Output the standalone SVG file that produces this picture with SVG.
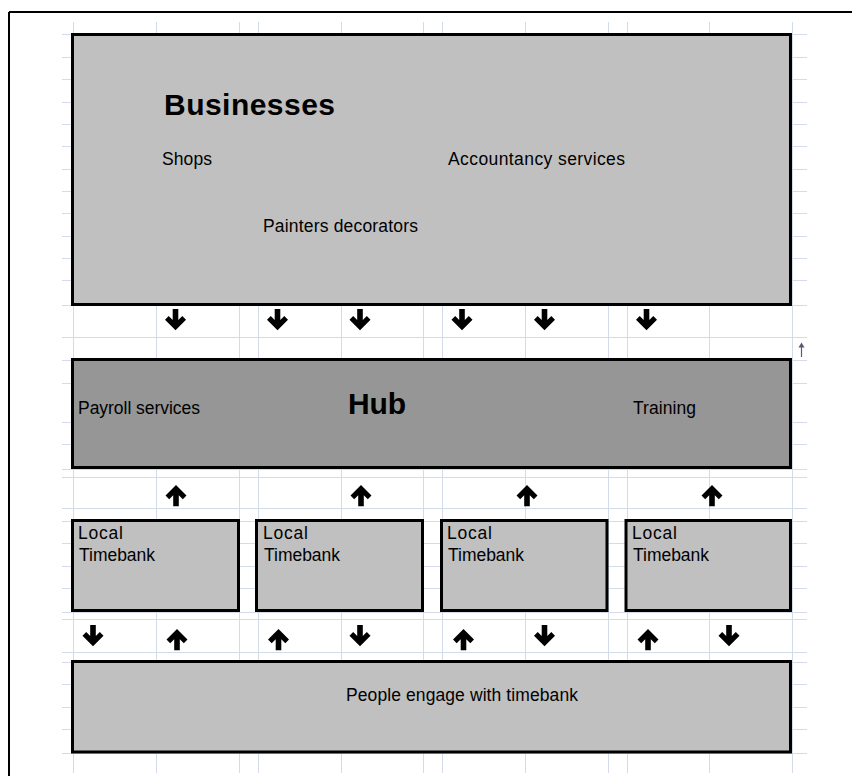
<svg xmlns="http://www.w3.org/2000/svg" width="852" height="776" viewBox="0 0 852 776">
<style>
.grid line{stroke:#D3DAE8;stroke-width:1}
.box{stroke:#000;stroke-width:3}
.lt{fill:#C0C0C0}
.dk{fill:#969696}
.t{font-family:"Liberation Sans",Arial,sans-serif;font-size:17.5px;fill:#000}
.b{font-family:"Liberation Sans",Arial,sans-serif;font-size:30px;font-weight:bold;fill:#000}
</style>
<defs>
<polygon id="down" points="-2.8,0 2.8,0 2.8,11 6.8,7 10.5,10.8 0,21.3 -10.5,10.8 -6.8,7 -2.8,11" fill="#000"/>
<polygon id="up" points="-2.8,21.3 2.8,21.3 2.8,10.3 6.8,14.3 10.5,10.5 0,0 -10.5,10.5 -6.8,14.3 -2.8,10.3" fill="#000"/>
</defs>
<rect width="852" height="776" fill="#fff"/>
<g id="frame" stroke="#000" stroke-width="2">
<line x1="9" y1="12" x2="852" y2="12"/>
<line x1="9" y1="12" x2="9" y2="776"/>
</g>
<g class="grid" id="grid">
<line x1="73.5" y1="22" x2="73.5" y2="773"/>
<line x1="156.5" y1="22" x2="156.5" y2="773"/>
<line x1="239.5" y1="22" x2="239.5" y2="773"/>
<line x1="258.5" y1="22" x2="258.5" y2="773"/>
<line x1="341.5" y1="22" x2="341.5" y2="773"/>
<line x1="423.5" y1="22" x2="423.5" y2="773"/>
<line x1="442.5" y1="22" x2="442.5" y2="773"/>
<line x1="525.5" y1="22" x2="525.5" y2="773"/>
<line x1="608.5" y1="22" x2="608.5" y2="773"/>
<line x1="627.5" y1="22" x2="627.5" y2="773"/>
<line x1="709.5" y1="22" x2="709.5" y2="773"/>
<line x1="792.5" y1="22" x2="792.5" y2="773"/>
<line x1="62" y1="34.5" x2="807" y2="34.5"/>
<line x1="62" y1="57.5" x2="807" y2="57.5"/>
<line x1="62" y1="79.5" x2="807" y2="79.5"/>
<line x1="62" y1="102.5" x2="807" y2="102.5"/>
<line x1="62" y1="124.5" x2="807" y2="124.5"/>
<line x1="62" y1="146.5" x2="807" y2="146.5"/>
<line x1="62" y1="169.5" x2="807" y2="169.5"/>
<line x1="62" y1="191.5" x2="807" y2="191.5"/>
<line x1="62" y1="213.5" x2="807" y2="213.5"/>
<line x1="62" y1="236.5" x2="807" y2="236.5"/>
<line x1="62" y1="258.5" x2="807" y2="258.5"/>
<line x1="62" y1="280.5" x2="807" y2="280.5"/>
<line x1="62" y1="305.5" x2="807" y2="305.5"/>
<line x1="62" y1="337.5" x2="807" y2="337.5"/>
<line x1="62" y1="360.5" x2="807" y2="360.5"/>
<line x1="62" y1="383.5" x2="807" y2="383.5"/>
<line x1="62" y1="422.5" x2="807" y2="422.5"/>
<line x1="62" y1="444.5" x2="807" y2="444.5"/>
<line x1="62" y1="469.5" x2="807" y2="469.5"/>
<line x1="62" y1="477.5" x2="807" y2="477.5"/>
<line x1="62" y1="508.5" x2="807" y2="508.5"/>
<line x1="62" y1="521.5" x2="807" y2="521.5"/>
<line x1="62" y1="543.5" x2="807" y2="543.5"/>
<line x1="62" y1="566.5" x2="807" y2="566.5"/>
<line x1="62" y1="588.5" x2="807" y2="588.5"/>
<line x1="62" y1="612.5" x2="807" y2="612.5"/>
<line x1="62" y1="619.5" x2="807" y2="619.5"/>
<line x1="62" y1="652.5" x2="807" y2="652.5"/>
<line x1="62" y1="662.5" x2="807" y2="662.5"/>
<line x1="62" y1="684.5" x2="807" y2="684.5"/>
<line x1="62" y1="707.5" x2="807" y2="707.5"/>
<line x1="62" y1="729.5" x2="807" y2="729.5"/>
<line x1="62" y1="753.5" x2="807" y2="753.5"/>
</g>
<g id="businesses">
<rect class="box lt" x="72.5" y="34.5" width="718" height="270"/>
<text class="b" x="164" y="115" textLength="171" lengthAdjust="spacing">Businesses</text>
<text class="t" x="162" y="165" textLength="50" lengthAdjust="spacing">Shops</text>
<text class="t" x="448" y="165" textLength="177" lengthAdjust="spacing">Accountancy services</text>
<text class="t" x="263" y="232" textLength="155" lengthAdjust="spacing">Painters decorators</text>
</g>
<g id="hub">
<rect class="box dk" x="72.5" y="359.5" width="718" height="108"/>
<text class="t" x="78" y="414" textLength="122" lengthAdjust="spacing">Payroll services</text>
<text class="b" x="348" y="414" textLength="58" lengthAdjust="spacing">Hub</text>
<text class="t" x="633" y="414" textLength="63" lengthAdjust="spacing">Training</text>
</g>
<g id="timebank1">
<rect class="box lt" x="72.5" y="520.5" width="166" height="90"/>
<text class="t" x="78" y="539" textLength="45" lengthAdjust="spacing">Local</text>
<text class="t" x="79" y="561" textLength="76" lengthAdjust="spacing">Timebank</text>
</g>
<g id="timebank2">
<rect class="box lt" x="256.5" y="520.5" width="166" height="90"/>
<text class="t" x="263" y="539" textLength="45" lengthAdjust="spacing">Local</text>
<text class="t" x="264" y="561" textLength="76" lengthAdjust="spacing">Timebank</text>
</g>
<g id="timebank3">
<rect class="box lt" x="441.5" y="520.5" width="165.5" height="90"/>
<text class="t" x="447" y="539" textLength="45" lengthAdjust="spacing">Local</text>
<text class="t" x="448" y="561" textLength="76" lengthAdjust="spacing">Timebank</text>
</g>
<g id="timebank4">
<rect class="box lt" x="626" y="520.5" width="164.5" height="90"/>
<text class="t" x="632" y="539" textLength="45" lengthAdjust="spacing">Local</text>
<text class="t" x="633" y="561" textLength="76" lengthAdjust="spacing">Timebank</text>
</g>
<g id="people">
<rect class="box lt" x="72.5" y="661.5" width="718" height="90.5"/>
<text class="t" x="346" y="701" textLength="232" lengthAdjust="spacing">People engage with timebank</text>
</g>
<g id="connectors">
<use href="#down" x="175.5" y="309"/>
<use href="#down" x="277.5" y="309"/>
<use href="#down" x="360" y="309"/>
<use href="#down" x="462" y="309"/>
<use href="#down" x="544.5" y="309"/>
<use href="#down" x="646.5" y="309"/>
<use href="#up" x="176" y="485"/>
<use href="#up" x="361" y="485"/>
<use href="#up" x="527" y="485"/>
<use href="#up" x="712" y="485"/>
<use href="#down" x="93" y="625"/>
<use href="#up" x="177" y="629"/>
<use href="#up" x="278.5" y="629"/>
<use href="#down" x="360" y="625"/>
<use href="#up" x="463.5" y="629"/>
<use href="#down" x="544.5" y="625"/>
<use href="#up" x="648" y="629"/>
<use href="#down" x="729" y="625"/>
<g stroke="#5a5a70" fill="#5a5a70">
<line x1="801.5" y1="357" x2="801.5" y2="344" stroke-width="1.2"/>
<polygon points="798.5,347.5 801.5,342.5 804.5,347.5" stroke="none"/>
</g>
</g>
</svg>
